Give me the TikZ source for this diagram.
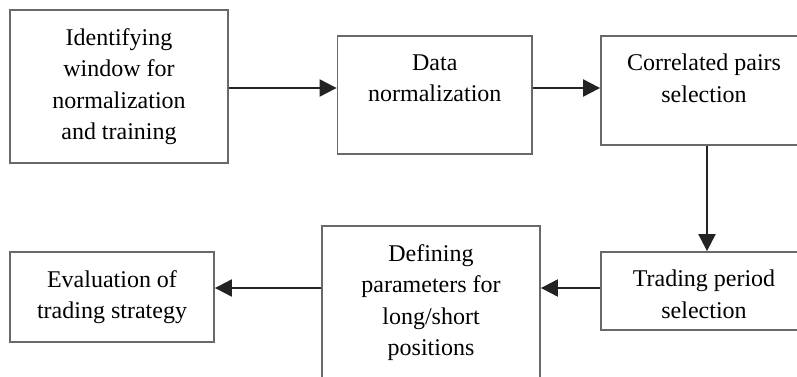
\documentclass[tikz,border=0pt]{standalone}
\usepackage{fontspec}
\setmainfont{Liberation Serif}
\usetikzlibrary{arrows.meta,positioning}

\definecolor{boxgray}{RGB}{105,105,105}
\definecolor{arrowgray}{RGB}{35,35,35}

\tikzset{
  box/.style={draw=boxgray, line width=1.8pt, fill=white, inner sep=0pt},
  txt/.style={align=center, inner sep=0pt, font=\fontsize{24}{31.5}\selectfont},
  flow/.style={draw=arrowgray, line width=2pt, -{Triangle[length=17pt,width=17pt]}}
}

\begin{document}
\begin{tikzpicture}[x=1pt,y=1pt]

\useasboundingbox (0,0) rectangle (797,376);
\clip (0,0) rectangle (797,376);

% Define boxes
\node[box, minimum width=218pt, minimum height=153pt] (win) at (119,289.5) {};
\node[box, minimum width=194.5pt, minimum height=118pt] (norm) at (434.75,281) {};
\node[box, minimum width=212pt, minimum height=109pt] (pairs) at (707,285.5) {};
\node[box, minimum width=212pt, minimum height=78pt] (period) at (707,85) {};
\node[box, minimum width=218pt, minimum height=160pt] (params) at (431,70) {};
\node[box, minimum width=204pt, minimum height=90pt] (eval) at (112,79) {};

% Box texts
\node[txt, below=19pt of win.north] (winT) {Identifying\\window for\\normalization\\and training};
\node[txt, below=19pt of norm.north] (normT) {Data\\normalization};
\node[txt, below=19pt of pairs.north, xshift=-3pt] (pairsT) {Correlated pairs\\selection};
\node[txt, below=19pt of period.north, xshift=-3pt] (periodT) {Trading period\\selection};
\node[txt, below=19pt of params.north] (paramsT) {Defining\\parameters for\\long/short\\positions};
\node[txt, below=19pt of eval.north] (evalT) {Evaluation of\\trading strategy};

% Draw arrows
\draw[flow] (win.east |- 0,288) -- (norm.west |- 0,288);
\draw[flow] (norm.east |- 0,288) -- (pairs.west |- 0,288);
\draw[flow] (pairs.south) -- (period.north);
\draw[flow] (period.west |- 0,88) -- (params.east |- 0,88);
\draw[flow] (params.west |- 0,88) -- (eval.east |- 0,88);

\end{tikzpicture}
\end{document}
